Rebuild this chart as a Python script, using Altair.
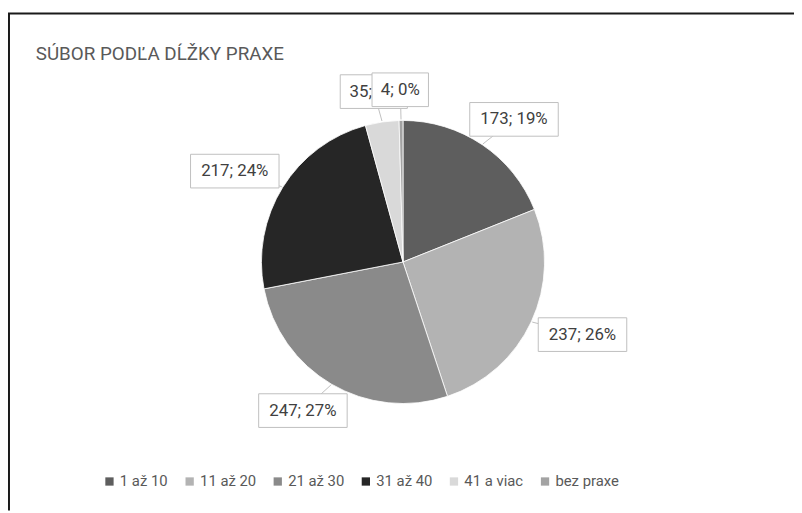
import math
import altair as alt
import pandas as pd

categories = ["1 až 10", "11 až 20", "21 až 30", "31 až 40", "41 a viac", "bez praxe"]
counts = [173, 237, 247, 217, 35, 4]
colors = ["#5e5e5e", "#b3b3b3", "#8a8a8a", "#262626", "#d9d9d9", "#a3a3a3"]
title_text = "SÚBOR PODĽA DĹŽKY PRAXE"

W, H = 794, 505
CX, CY = 399, 254
R = 143
RX, RY = 200, 174
FONT = "Liberation Sans Narrow, Roboto, sans-serif"

total = sum(counts)
rows = []
cum = 0
for i, (c, v) in enumerate(zip(categories, counts)):
    mid = (cum + v / 2) / total * 2 * math.pi
    cum += v
    label = f"{v}; {round(100 * v / total)}%"
    w = 10.8 * len(label) + 3
    h = 34
    s, co = math.sin(mid), math.cos(mid)
    lx = CX + RX * s
    ly = CY - RY * co
    rows.append(dict(
        cat=c, value=v, order=i, label=label,
        lx=lx, ly=ly, bx=lx - w / 2, bx2=lx + w / 2, by=ly - h / 2, by2=ly + h / 2,
        px=CX + (R + 1) * s, py=CY - (R + 1) * co,
        px2=lx, py2=ly,
    ))
df = pd.DataFrame(rows)

xs = alt.Scale(domain=[0, W], nice=False, zero=False)
ys = alt.Scale(domain=[0, H], nice=False, zero=False, reverse=True)

base = alt.Chart(df)

pie = base.mark_arc(outerRadius=R, stroke="#ffffff", strokeWidth=0.8).encode(
    x=alt.value(CX), y=alt.value(CY),
    theta=alt.Theta("value:Q", stack=True),
    order=alt.Order("order:Q"),
    color=alt.Color(
        "cat:N",
        scale=alt.Scale(domain=categories, range=colors),
        sort=categories,
        legend=alt.Legend(
            title=None, orient="none", direction="horizontal",
            legendX=95, legendY=468, symbolType="square", symbolSize=70,
            symbolStrokeWidth=0, labelFont=FONT, labelFontSize=15,
            labelColor="#595959", columnPadding=14, labelOffset=3,
        ),
    ),
)

pointers = base.mark_rule(color="#bfbfbf", strokeWidth=1).encode(
    x=alt.X("px:Q", scale=xs, axis=None), y=alt.Y("py:Q", scale=ys, axis=None),
    x2="px2:Q", y2="py2:Q",
)

label_layers = []
for i in range(len(categories)):
    sub = base.transform_filter(alt.datum.order == i)
    box = sub.mark_rect(fill="#ffffff", stroke="#bfbfbf", strokeWidth=1).encode(
        x=alt.X("bx:Q", scale=xs, axis=None), x2="bx2:Q",
        y=alt.Y("by:Q", scale=ys, axis=None), y2="by2:Q",
    )
    txt = sub.mark_text(font=FONT, fontSize=17, color="#404040").encode(
        x=alt.X("lx:Q", scale=xs, axis=None), y=alt.Y("ly:Q", scale=ys, axis=None),
        text="label:N",
    )
    label_layers += [box, txt]

title = alt.Chart(pd.DataFrame({"t": [title_text]})).mark_text(
    font=FONT, fontSize=19, color="#595959", align="left", baseline="alphabetic"
).encode(x=alt.value(28), y=alt.value(50), text="t:N")

frame_df = pd.DataFrame({"k": [0]})
top_line = alt.Chart(frame_df).mark_rule(color="#1a1a1a", strokeWidth=2).encode(
    x=alt.value(0), x2=alt.value(W), y=alt.value(3)
)
left_line = alt.Chart(frame_df).mark_rule(color="#1a1a1a", strokeWidth=2).encode(
    x=alt.value(1), y=alt.value(3), y2=alt.value(H)
)

chart = alt.layer(pie, pointers, *label_layers, title, top_line, left_line).properties(
    width=W, height=H, padding=0, autosize=alt.AutoSizeParams(type="none"),
    background="#ffffff",
).configure_view(stroke=None).resolve_scale(color="independent")

chart.save("out.html", embed_options={"renderer": "svg", "actions": False})
